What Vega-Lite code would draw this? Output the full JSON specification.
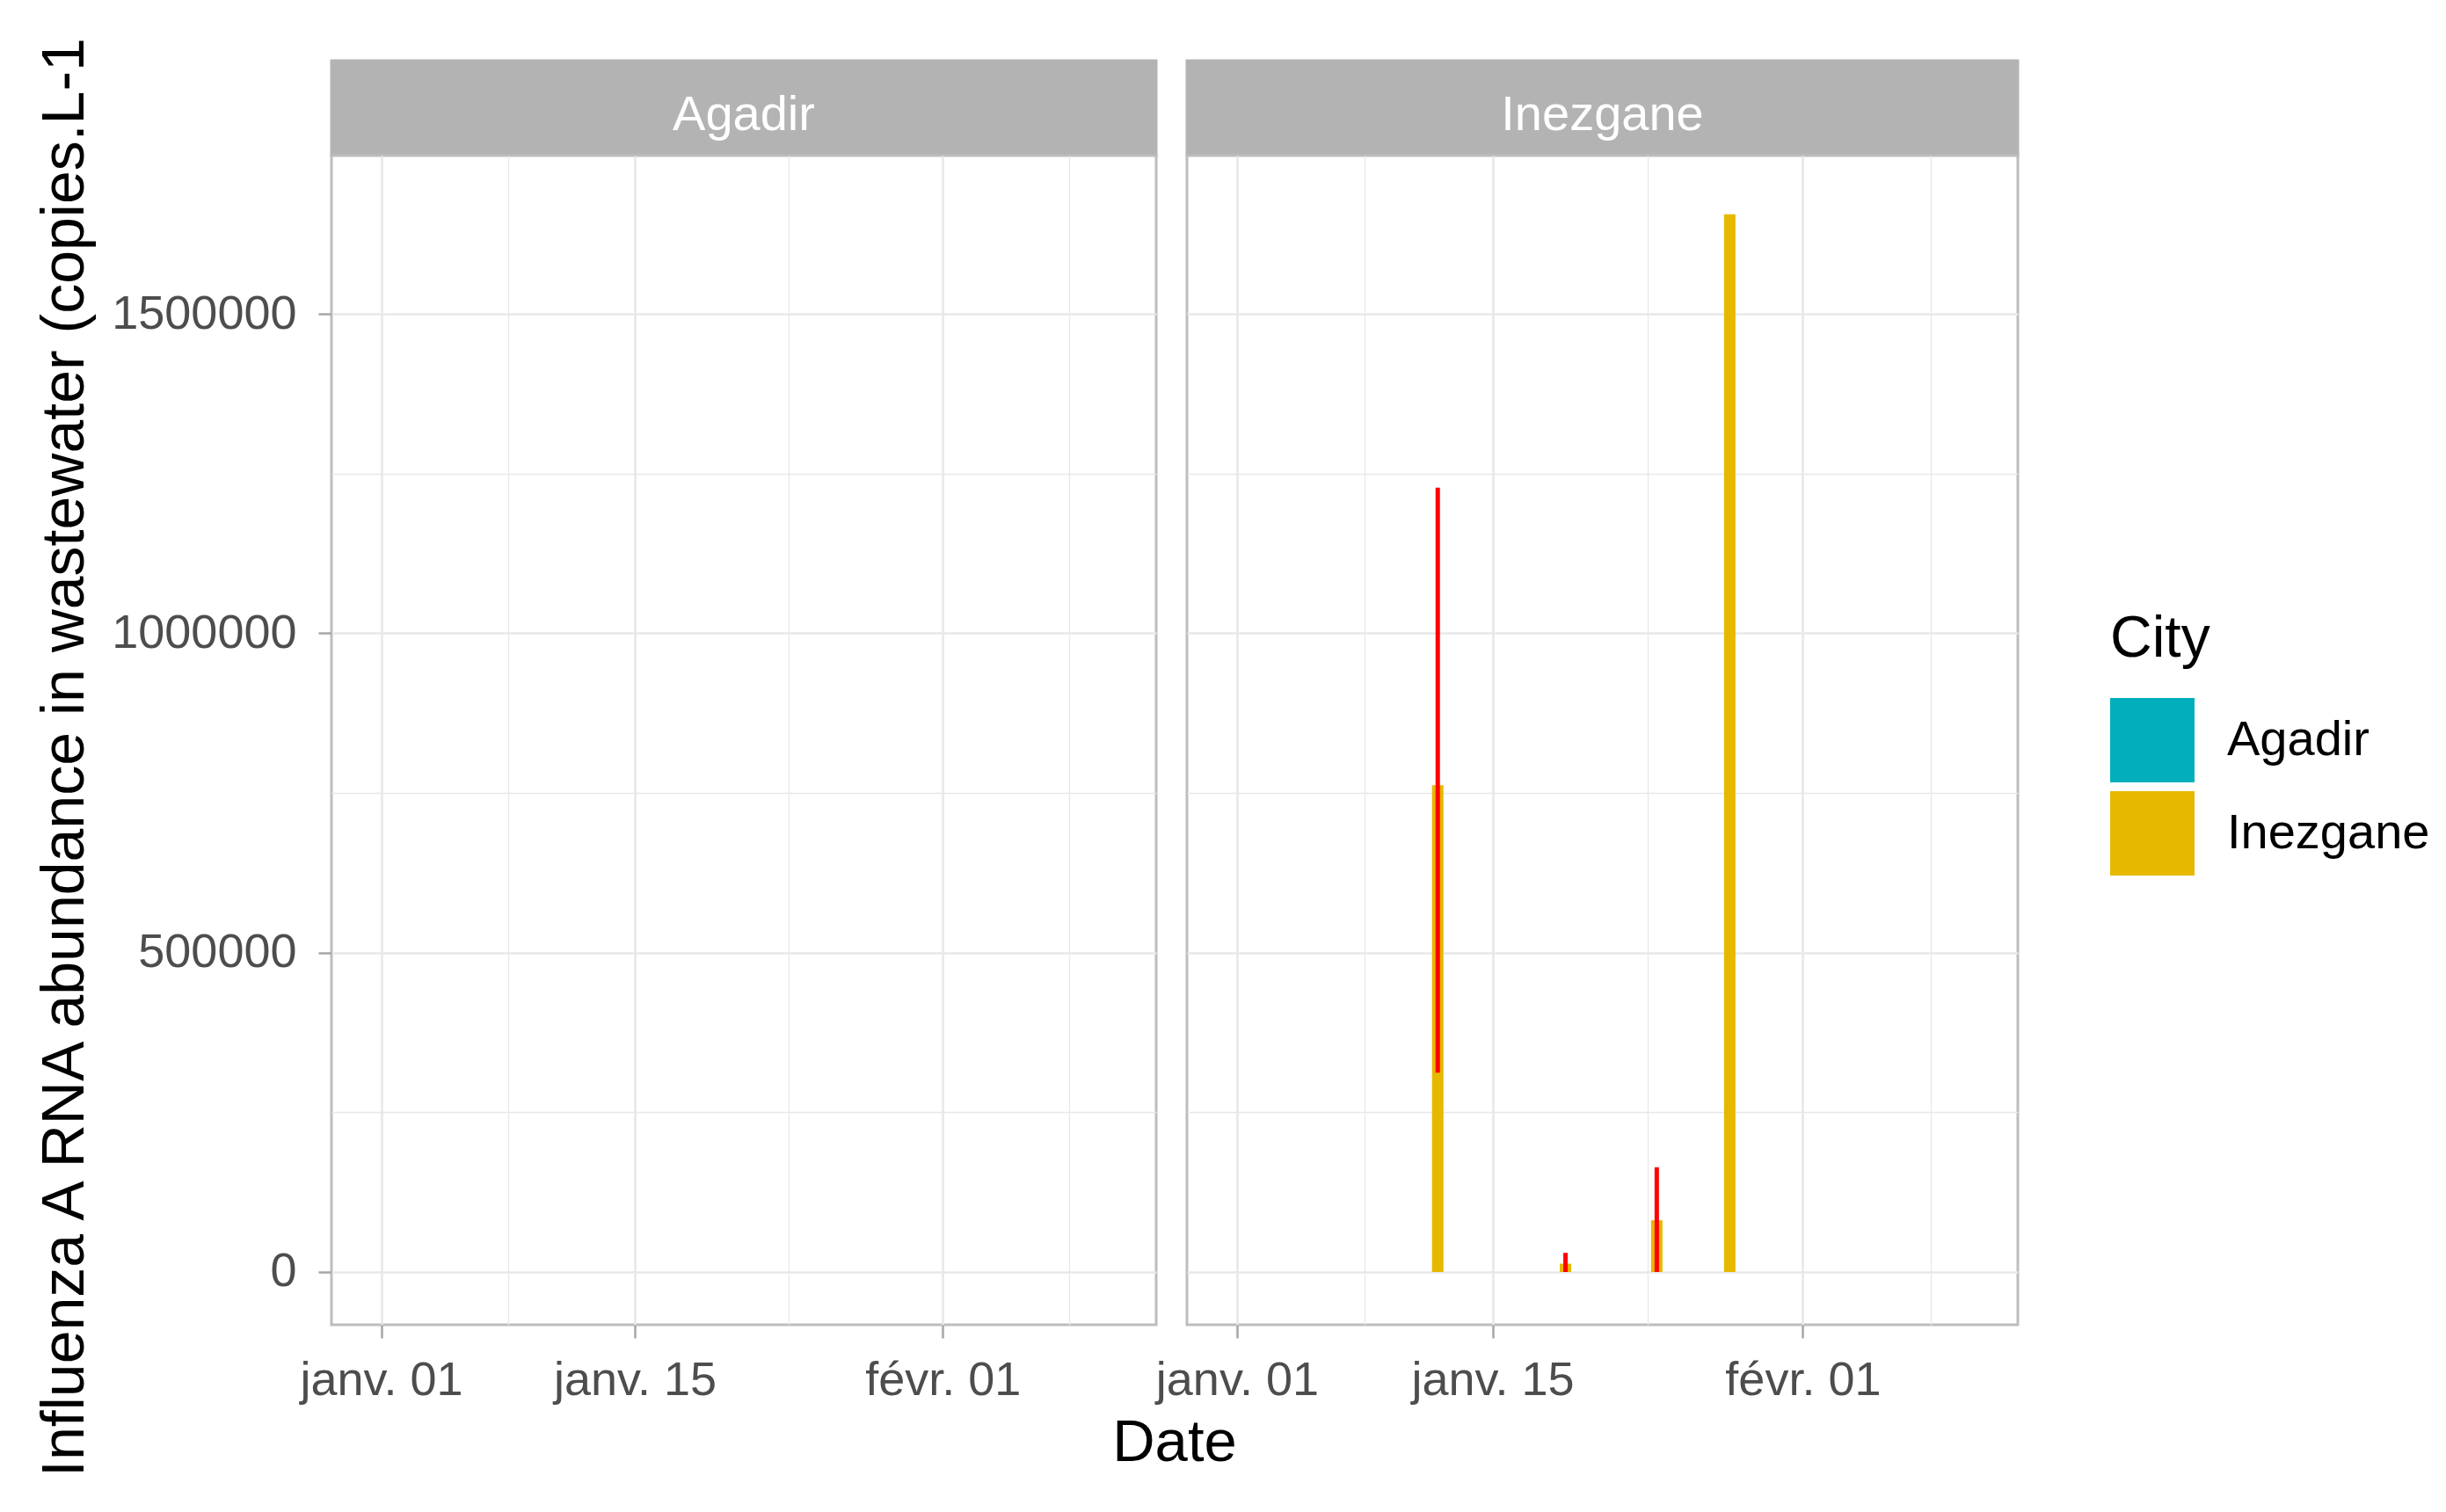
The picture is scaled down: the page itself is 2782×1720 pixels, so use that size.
{
  "$schema": "https://vega.github.io/schema/vega-lite/v6.json",
  "background": "white",
  "padding": {"left": 38, "top": 35, "right": 5, "bottom": 5},
  "autosize": {"type": "pad"},
  "bounds": "flush",
  "columns": 2,
  "spacing": {"row": 0, "column": 35},
  "datasets": {
    "flu": [
      {"City": "Agadir", "Date": "2022-01-12T00:00:00", "Value": 0, "Lower": null, "Upper": null},
      {"City": "Agadir", "Date": "2022-01-19T00:00:00", "Value": 0, "Lower": null, "Upper": null},
      {"City": "Agadir", "Date": "2022-01-24T00:00:00", "Value": 0, "Lower": null, "Upper": null},
      {"City": "Agadir", "Date": "2022-01-28T00:00:00", "Value": 0, "Lower": null, "Upper": null},
      {"City": "Inezgane", "Date": "2022-01-12T00:00:00", "Value": 762000, "Lower": 312000, "Upper": 1228000},
      {"City": "Inezgane", "Date": "2022-01-19T00:00:00", "Value": 13000, "Lower": 0, "Upper": 30000},
      {"City": "Inezgane", "Date": "2022-01-24T00:00:00", "Value": 81000, "Lower": 0, "Upper": 164000},
      {"City": "Inezgane", "Date": "2022-01-28T00:00:00", "Value": 1656000, "Lower": null, "Upper": null}
    ]
  },
  "title": {
    "text": "Date", "orient": "bottom", "anchor": "middle", "frame": "group",
    "fontSize": 67, "fontWeight": "normal", "color": "black", "font": "Liberation Sans", "offset": -78, "dx": 959
  },
  "resolve": {"scale": {"color": "shared", "x": "independent", "y": "independent"}, "legend": {"color": "shared"}},
  "concat": [
    {
      "data": {"values": [{"City": "Agadir"}]},
      "width": 938,
      "height": 108,
      "view": {"fill": "#B3B3B3", "stroke": "#B3B3B3", "strokeWidth": 3},
      "mark": {"type": "text", "color": "white", "fontSize": 56, "font": "Liberation Sans", "align": "center", "baseline": "middle", "dy": 8},
      "encoding": {"text": {"field": "City", "type": "nominal"}}
    },
    {
      "data": {"values": [{"City": "Inezgane"}]},
      "width": 945,
      "height": 108,
      "view": {"fill": "#B3B3B3", "stroke": "#B3B3B3", "strokeWidth": 3},
      "mark": {"type": "text", "color": "white", "fontSize": 56, "font": "Liberation Sans", "align": "center", "baseline": "middle", "dy": 8},
      "encoding": {"text": {"field": "City", "type": "nominal"}}
    },
    {
      "data": {"name": "flu"},
      "transform": [{"filter": "datum.City == 'Agadir'"}],
      "width": 938,
      "height": 1330,
      "layer": [
        {
          "mark": {"type": "bar", "width": 13},
          "encoding": {
            "x": {
              "field": "Date", "type": "temporal",
              "scale": {"domain": [{"year": 2021, "month": 12, "date": 29, "hours": 12}, {"year": 2022, "month": 2, "date": 12, "hours": 13}]},
              "axis": {
                "title": null,
                "values": [
                  {"year": 2022, "month": 1, "date": 1},
                  {"year": 2022, "month": 1, "date": 8},
                  {"year": 2022, "month": 1, "date": 15},
                  {"year": 2022, "month": 1, "date": 23, "hours": 12},
                  {"year": 2022, "month": 2, "date": 1},
                  {"year": 2022, "month": 2, "date": 8}
                ],
                "labelExpr": "(date(datum.value)==1 || date(datum.value)==15) ? (month(datum.value)==0 ? 'janv. ' : 'févr. ') + timeFormat(datum.value, '%d') : ''",
                "gridWidth": {"condition": {"test": "date(datum.value)==1 || date(datum.value)==15", "value": 2.6}, "value": 1.3},
                "tickOpacity": {"condition": {"test": "date(datum.value)==1 || date(datum.value)==15", "value": 1}, "value": 0}
              }
            },
            "y": {
              "field": "Value", "type": "quantitative",
              "scale": {"domain": [-82600, 1748000], "nice": false, "zero": false},
              "axis": {
                "title": "Influenza A RNA abundance in wastewater (copies.L-1",
                "titleFontSize": 68,
                "titlePadding": 69,
                "titleY": 684,
                "values": [0, 250000, 500000, 750000, 1000000, 1250000, 1500000],
                "labelExpr": "datum.value % 500000 == 0 ? format(datum.value, 'd') : ''",
                "gridWidth": {"condition": {"test": "datum.value % 500000 == 0", "value": 2.6}, "value": 1.3},
                "tickOpacity": {"condition": {"test": "datum.value % 500000 == 0", "value": 1}, "value": 0}
              }
            },
            "y2": {"datum": 0},
            "color": {
              "field": "City", "type": "nominal",
              "scale": {"domain": ["Agadir", "Inezgane"], "range": ["#00AFBB", "#E7B800"]},
              "legend": {"title": "City", "orient": "none", "legendX": 2023, "legendY": 626}
            }
          }
        },
        {
          "transform": [{"filter": "isValid(datum.Lower)"}],
          "mark": {"type": "rule", "color": "#FF0000", "strokeWidth": 5},
          "encoding": {
            "x": {"field": "Date", "type": "temporal"},
            "y": {"field": "Lower", "type": "quantitative"},
            "y2": {"field": "Upper"}
          }
        }
      ]
    },
    {
      "data": {"name": "flu"},
      "transform": [{"filter": "datum.City == 'Inezgane'"}],
      "width": 945,
      "height": 1330,
      "layer": [
        {
          "mark": {"type": "bar", "width": 13},
          "encoding": {
            "x": {
              "field": "Date", "type": "temporal",
              "scale": {"domain": [{"year": 2021, "month": 12, "date": 29, "hours": 12}, {"year": 2022, "month": 2, "date": 12, "hours": 13}]},
              "axis": {
                "title": null,
                "values": [
                  {"year": 2022, "month": 1, "date": 1},
                  {"year": 2022, "month": 1, "date": 8},
                  {"year": 2022, "month": 1, "date": 15},
                  {"year": 2022, "month": 1, "date": 23, "hours": 12},
                  {"year": 2022, "month": 2, "date": 1},
                  {"year": 2022, "month": 2, "date": 8}
                ],
                "labelExpr": "(date(datum.value)==1 || date(datum.value)==15) ? (month(datum.value)==0 ? 'janv. ' : 'févr. ') + timeFormat(datum.value, '%d') : ''",
                "gridWidth": {"condition": {"test": "date(datum.value)==1 || date(datum.value)==15", "value": 2.6}, "value": 1.3},
                "tickOpacity": {"condition": {"test": "date(datum.value)==1 || date(datum.value)==15", "value": 1}, "value": 0}
              }
            },
            "y": {
              "field": "Value", "type": "quantitative",
              "scale": {"domain": [-82600, 1748000], "nice": false, "zero": false},
              "axis": {
                "title": null,
                "labels": false,
                "ticks": false,
                "values": [0, 250000, 500000, 750000, 1000000, 1250000, 1500000],
                "gridWidth": {"condition": {"test": "datum.value % 500000 == 0", "value": 2.6}, "value": 1.3}
              }
            },
            "y2": {"datum": 0},
            "color": {
              "field": "City", "type": "nominal",
              "scale": {"domain": ["Agadir", "Inezgane"], "range": ["#00AFBB", "#E7B800"]},
              "legend": {"title": "City", "orient": "none", "legendX": 2023, "legendY": 626}
            }
          }
        },
        {
          "transform": [{"filter": "isValid(datum.Lower)"}],
          "mark": {"type": "rule", "color": "#FF0000", "strokeWidth": 5},
          "encoding": {
            "x": {"field": "Date", "type": "temporal"},
            "y": {"field": "Lower", "type": "quantitative"},
            "y2": {"field": "Upper"}
          }
        }
      ]
    }
  ],
  "config": {
    "font": "Liberation Sans",
    "view": {"stroke": "#BDBDBD", "strokeWidth": 3, "fill": "white"},
    "axis": {
      "labelFont": "Liberation Sans",
      "labelFontSize": 54,
      "labelColor": "#4D4D4D",
      "labelPadding": 25,
      "labelLimit": 0,
      "titleFont": "Liberation Sans",
      "titleFontSize": 66,
      "titleColor": "#000000",
      "titleFontWeight": "normal",
      "titlePadding": 22,
      "titleLimit": 0,
      "gridColor": "#E8E8E8",
      "tickColor": "#A6A6A6",
      "tickWidth": 2.5,
      "tickSize": 15,
      "domain": false
    },
    "axisX": {"labelPadding": 21, "labelAngle": 0},
    "legend": {
      "titleFont": "Liberation Sans",
      "titleFontSize": 66,
      "titleFontWeight": "normal",
      "titleColor": "#000000",
      "labelFont": "Liberation Sans",
      "labelFontSize": 56,
      "labelColor": "#000000",
      "labelLimit": 0,
      "symbolType": "square",
      "symbolSize": 9216,
      "symbolStrokeWidth": 0,
      "symbolOpacity": 1,
      "rowPadding": 10,
      "labelOffset": 37,
      "titlePadding": 33
    }
  }
}
